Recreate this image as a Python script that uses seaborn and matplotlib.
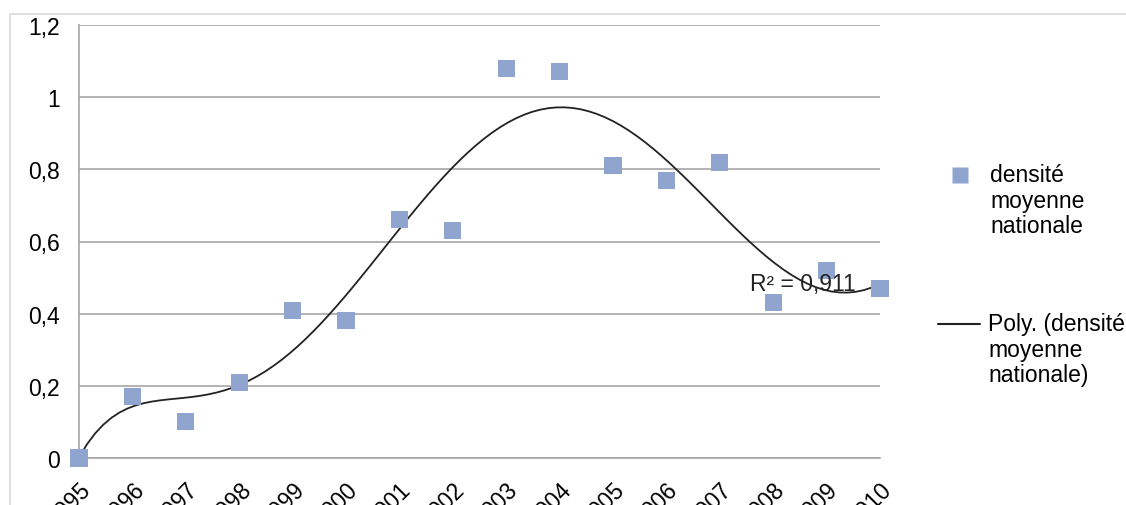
import numpy as np
import pandas as pd
import seaborn as sns
import matplotlib.pyplot as plt
from matplotlib.lines import Line2D
from matplotlib.patches import Rectangle

# Données
annees = [1995, 1996, 1997, 1998, 1999, 2000, 2001, 2002,
          2003, 2004, 2005, 2006, 2007, 2008, 2009, 2010]
densite = [0.0, 0.17, 0.10, 0.21, 0.41, 0.38, 0.66, 0.63,
           1.08, 1.07, 0.81, 0.77, 0.82, 0.43, 0.52, 0.47]
y_ticks = [0, 0.2, 0.4, 0.6, 0.8, 1.0, 1.2]
y_labels = ["0", "0,2", "0,4", "0,6", "0,8", "1", "1,2"]
r2_label = "R² = 0,911"
legend_labels = ["densité\nmoyenne\nnationale", "Poly. (densité\nmoyenne\nnationale)"]

df = pd.DataFrame({"annee": annees, "densite": densite})
df["rang"] = np.arange(1, len(df) + 1)  # Excel numbers the x values 1..n

sns.set_theme(style="white")
plt.rcParams['font.family'] = ['Liberation Sans', 'DejaVu Sans']

W, H = 1126, 506
bleu = "#8fa5d0"
gris = "#a6a6a6"
noir = "#222222"
fs = 16.5

fig = plt.figure(figsize=(W / 100, H / 100), dpi=100)
fig.patches.append(Rectangle((10 / W, -0.1), 1.2, 1 - 15 / H + 0.1,
                             transform=fig.transFigure, fill=False,
                             edgecolor="#d9d9d9", linewidth=1.2))
ax = fig.add_axes([79 / W, 1 - 459 / H, (880 - 79) / W, (459 - 26) / H])

# courbe de tendance polynomiale (ordre 6) + points
sns.regplot(data=df, x="rang", y="densite", order=6, ci=None, scatter=False,
            truncate=True, color=noir, line_kws={"linewidth": 1.3}, ax=ax)
sns.scatterplot(data=df, x="rang", y="densite", marker="s", s=150, color=bleu,
                edgecolor="none", clip_on=False, zorder=3, ax=ax)

ax.set_xlim(1, len(df))
ax.set_ylim(0, 1.2)
ax.set_yticks(y_ticks)
ax.set_yticklabels(y_labels, fontsize=fs)
ax.set_xticks(df["rang"])
ax.set_xticklabels([str(a) for a in annees], fontsize=fs, rotation=45,
                   ha="right", rotation_mode="anchor")
ax.set_xlabel("")
ax.set_ylabel("")
ax.yaxis.grid(True, color=gris, linewidth=1.2)
ax.set_axisbelow(True)
for s in ["top", "right"]:
    ax.spines[s].set_visible(False)
for s in ["left", "bottom"]:
    ax.spines[s].set_color(gris)
    ax.spines[s].set_linewidth(1.2)
ax.tick_params(axis="both", which="major", length=5, width=1.2, color=gris,
               direction="out", labelcolor="#000000")
ax.tick_params(axis="y", pad=9)
ax.tick_params(axis="x", pad=9)

fig.text(803 / W, 1 - 285 / H, r2_label, fontsize=fs, color=noir,
         ha="center", va="center")

# légende dessinée à la manière d'Excel (symbole aligné sur la 1re ligne)
fig.add_artist(Line2D([960 / W], [1 - 176 / H], marker="s", markersize=11,
                      markerfacecolor=bleu, markeredgecolor="none",
                      linestyle="none", transform=fig.transFigure))
fig.text(990 / W, 1 - 164 / H, legend_labels[0], fontsize=fs, ha="left",
         va="top", linespacing=1.15, color="#000000")
fig.add_artist(Line2D([938 / W, 980 / W], [1 - 325 / H, 1 - 325 / H],
                      color=noir, linewidth=1.5, transform=fig.transFigure))
fig.text(988 / W, 1 - 313 / H, legend_labels[1], fontsize=fs, ha="left",
         va="top", linespacing=1.15, color="#000000")

fig.savefig("out.png", dpi=100)
